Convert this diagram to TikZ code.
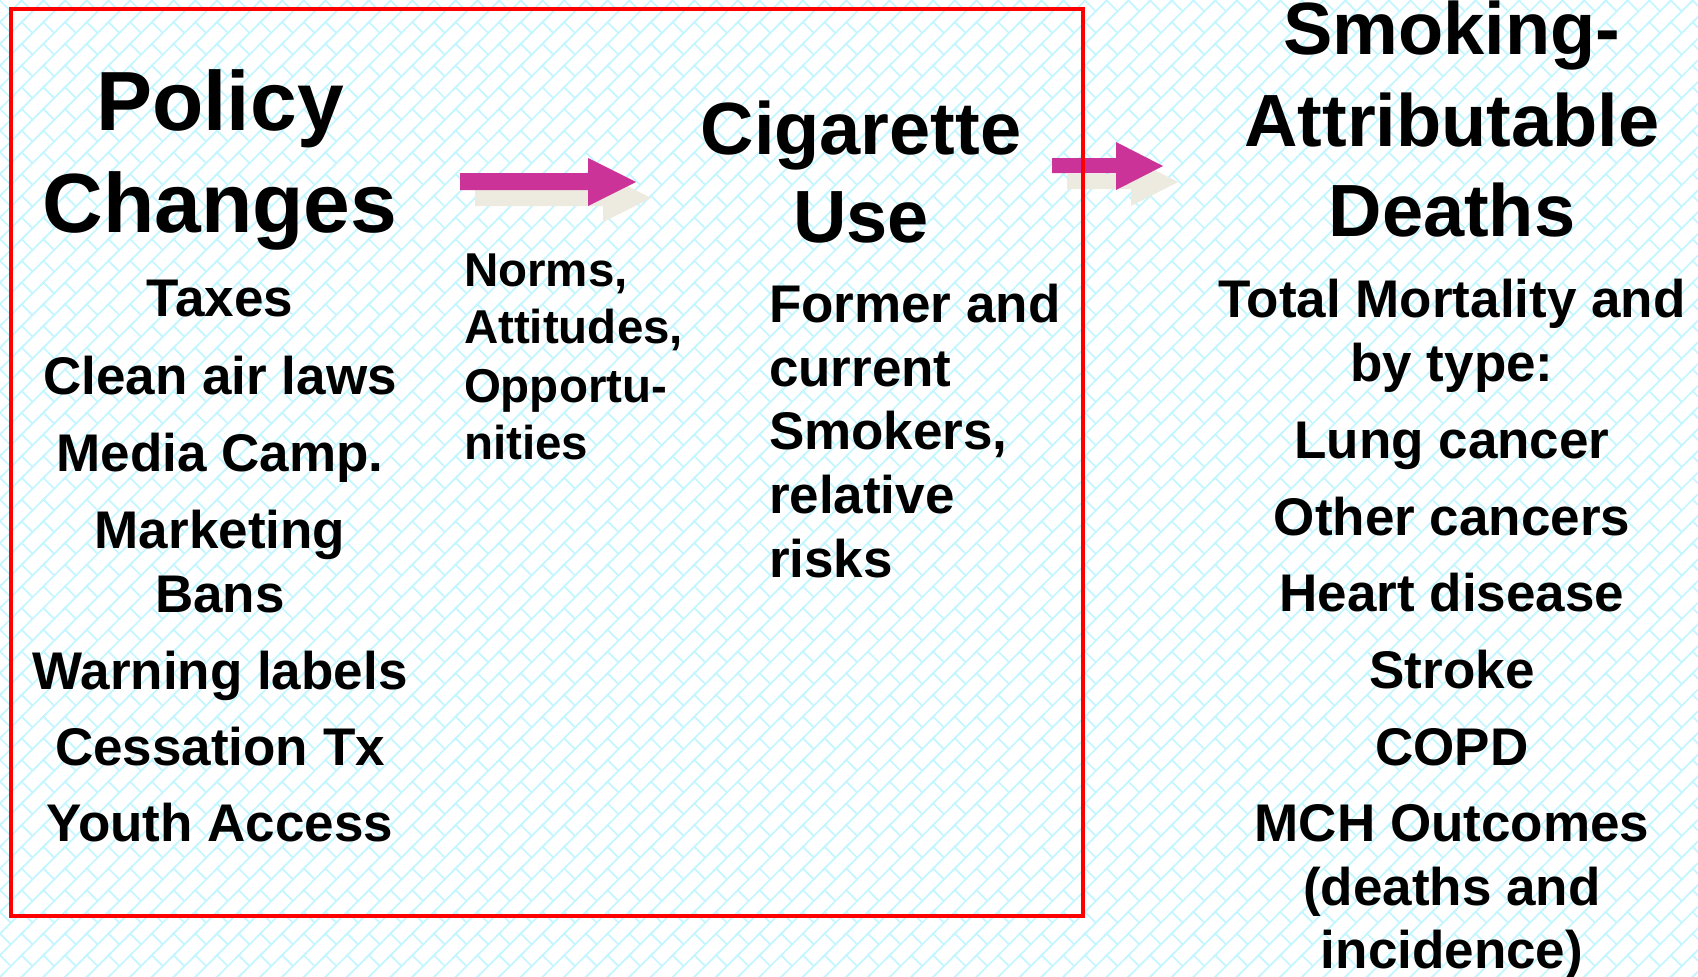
\documentclass[tikz,border=0pt]{standalone}
\usepackage{fontspec}
\setmainfont{Liberation Sans}
\usetikzlibrary{patterns}
\pgfdeclarepatternformonly{dbrick}{\pgfpoint{-3pt}{-3pt}}{\pgfpoint{24.7pt}{24.7pt}}{\pgfpoint{21.7pt}{21.7pt}}{%
  \pgfsetlinewidth{1.7pt}%
  \pgfpathmoveto{\pgfpoint{-3pt}{-3pt}}\pgfpathlineto{\pgfpoint{24.7pt}{24.7pt}}%
  \pgfpathmoveto{\pgfpoint{-0.5pt}{22.2pt}}\pgfpathlineto{\pgfpoint{10.85pt}{10.85pt}}%
  \pgfusepath{stroke}%
}
\definecolor{bgcyan}{RGB}{196,246,255}
\definecolor{arrowpink}{RGB}{204,51,153}
\definecolor{shadowbeige}{RGB}{237,234,224}
\definecolor{framered}{RGB}{255,0,0}
\tikzset{
  every node/.style={inner sep=0pt, outer sep=0pt},
  bigtitle/.style={font=\fontsize{84}{84}\selectfont\bfseries, anchor=base},
  midtitle/.style={font=\fontsize{74}{74}\selectfont\bfseries, anchor=base},
  itemc/.style={font=\fontsize{53}{53}\selectfont\bfseries, anchor=base},
  iteml/.style={font=\fontsize{53}{53}\selectfont\bfseries, anchor=base west},
  smalll/.style={font=\fontsize{47.5}{47.5}\selectfont\bfseries, anchor=base west},
  blockarrow/.style={fill=arrowpink, draw=none},
  arrowshadow/.style={fill=shadowbeige, draw=none},
  frame/.style={draw=framered, line width=4pt},
}
\begin{document}
\begin{tikzpicture}[x=1pt, y=-1pt]
\useasboundingbox (0,0) rectangle (1698,977);
\fill[white] (0,0) rectangle (1698,977);
\fill[pattern=dbrick, pattern color=bgcyan] (0,0) rectangle (1698,977);

% arrow 1 (shadow then arrow)
\fill[arrowshadow] (475,189) -- (603,189) -- (603,174) -- (651,198) -- (603,222) -- (603,206) -- (475,206) -- cycle;
\fill[blockarrow] (460,173) -- (588,173) -- (588,158) -- (636,182) -- (588,206) -- (588,190) -- (460,190) -- cycle;
% arrow 2
\fill[arrowshadow] (1067,174) -- (1131,174) -- (1131,158) -- (1178,182) -- (1131,206) -- (1131,189) -- (1067,189) -- cycle;
\fill[blockarrow] (1052,158) -- (1116,158) -- (1116,142) -- (1163,166) -- (1116,190) -- (1116,173) -- (1052,173) -- cycle;

% frame
\draw[frame] (11,9) rectangle (1083,916);

% left column
\node[bigtitle] (pol1) at (220,130) {Policy};
\node[bigtitle] (pol2) at (220,232) {Changes};
\node[itemc] (l1) at (220,316) {Taxes};
\node[itemc] (l2) at (220,394) {Clean air laws};
\node[itemc] (l3) at (220,471) {Media Camp.};
\node[itemc] (l4) at (220,548) {Marketing};
\node[itemc] (l5) at (220,612) {Bans};
\node[itemc] (l6) at (220,689) {Warning labels};
\node[itemc] (l7) at (220,765) {Cessation Tx};
\node[itemc] (l8) at (220,841) {Youth Access};

% norms
\node[smalll] (n1) at (464,286) {Norms,};
\node[smalll] (n2) at (464,343) {Attitudes,};
\node[smalll] (n3) at (464,402) {Opportu-};
\node[smalll] (n4) at (464,459) {nities};

% cigarette use
\node[midtitle] (c1) at (861,154) {Cigarette};
\node[midtitle] (c2) at (861,242) {Use};
\node[iteml] (f1) at (769,322) {Former and};
\node[iteml] (f2) at (769,386) {current};
\node[iteml] (f3) at (769,449) {Smokers,};
\node[iteml] (f4) at (769,513) {relative};
\node[iteml] (f5) at (769,577) {risks};

% deaths
\node[midtitle] (d1) at (1452,54) {Smoking-};
\node[midtitle] (d2) at (1452,146) {Attributable};
\node[midtitle] (d3) at (1452,236) {Deaths};
\node[itemc] (r1) at (1452,317) {Total Mortality and};
\node[itemc] (r2) at (1452,381) {by type:};
\node[itemc] (r3) at (1452,458) {Lung cancer};
\node[itemc] (r4) at (1452,535) {Other cancers};
\node[itemc] (r5) at (1452,611) {Heart disease};
\node[itemc] (r6) at (1452,688) {Stroke};
\node[itemc] (r7) at (1452,765) {COPD};
\node[itemc] (r8) at (1452,841) {MCH Outcomes};
\node[itemc] (r9) at (1452,905) {(deaths and};
\node[itemc] (r10) at (1452,968) {incidence)};
\end{tikzpicture}
\end{document}
